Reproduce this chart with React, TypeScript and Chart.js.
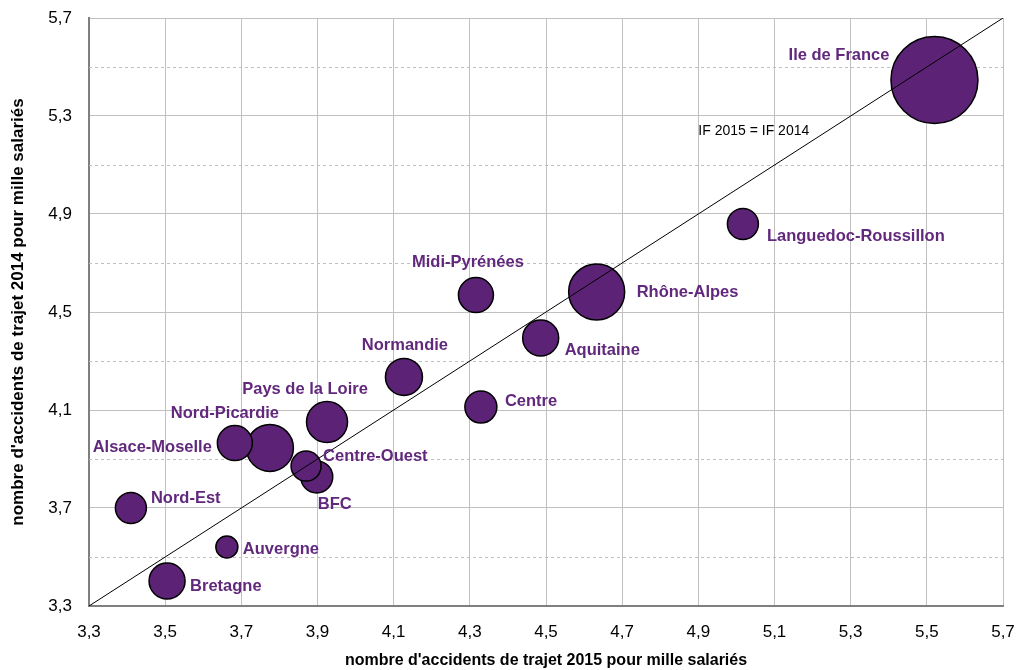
import React, { useEffect, useRef } from "react";
import { Chart, registerables } from "chart.js";

Chart.register(...registerables);

// ---- data ----
const regions = [
  "Ile de France",
  "Rhône-Alpes",
  "Nord-Picardie",
  "Pays de la Loire",
  "Normandie",
  "Aquitaine",
  "Bretagne",
  "Midi-Pyrénées",
  "Alsace-Moselle",
  "Centre",
  "BFC",
  "Languedoc-Roussillon",
  "Nord-Est",
  "Centre-Ouest",
  "Auvergne",
];
const if2015 = [5.52, 4.633, 3.775, 3.925, 4.127, 4.486, 3.505, 4.316, 3.683, 4.329, 3.898, 5.017, 3.41, 3.87, 3.662];
const if2014 = [5.447, 4.582, 3.945, 4.051, 4.235, 4.394, 3.402, 4.569, 3.965, 4.112, 3.827, 4.859, 3.7, 3.871, 3.541];
const bubbleSize = [43.5, 28, 23.5, 20.5, 18.5, 18, 18, 17.5, 17.5, 16, 16, 15.5, 15.5, 15, 11];
const diagonal = [3.3, 5.7];
const diagonalLabel = "IF 2015 = IF 2014";
const xTitle = "nombre d'accidents de trajet 2015 pour mille salariés";
const yTitle = "nombre d'accidents de trajet 2014 pour mille salariés";

// label placement (style only)
const labelPlacement: { dx: number; dy: number; align: CanvasTextAlign }[] = [
  { dx: -45, dy: -25, align: "right" },
  { dx: 40, dy: 1, align: "left" },
  { dx: -45, dy: -35, align: "center" },
  { dx: -22, dy: -33, align: "center" },
  { dx: 1, dy: -31, align: "center" },
  { dx: 24, dy: 12, align: "left" },
  { dx: 23, dy: 5, align: "left" },
  { dx: -8, dy: -33, align: "center" },
  { dx: -23, dy: 4, align: "right" },
  { dx: 24, dy: -6, align: "left" },
  { dx: 18, dy: 28, align: "center" },
  { dx: 24, dy: 12, align: "left" },
  { dx: 20, dy: -10, align: "left" },
  { dx: 17, dy: -10, align: "left" },
  { dx: 16, dy: 2, align: "left" },
];

const PURPLE = "#5C2275";
const LABEL_PURPLE = "#61287C";
const FONT = "'Liberation Sans', Arial, sans-serif";
const fmt = (v: number) => v.toFixed(1).replace(".", ",");

const labelsPlugin = {
  id: "bubbleLabels",
  beforeDatasetsDraw(chart: any) {
    const { ctx, chartArea, scales } = chart;
    const ys = scales.y;
    ctx.save();
    ctx.strokeStyle = "#BFBFBF";
    ctx.lineWidth = 1;
    ctx.setLineDash([3, 3]);
    ys.ticks.forEach((t: any, i: number) => {
      if (i % 2 === 1) {
        const py = Math.round(ys.getPixelForValue(t.value)) + 0.5;
        ctx.beginPath();
        ctx.moveTo(chartArea.left, py);
        ctx.lineTo(chartArea.right, py);
        ctx.stroke();
      }
    });
    ctx.restore();
  },
  afterDatasetsDraw(chart: any) {
    const { ctx, scales } = chart;
    const meta = chart.getDatasetMeta(1);
    ctx.save();
    ctx.font = `bold 16.5px ${FONT}`;
    ctx.fillStyle = LABEL_PURPLE;
    ctx.textBaseline = "middle";
    meta.data.forEach((el: any, i: number) => {
      const p = labelPlacement[i];
      ctx.textAlign = p.align;
      ctx.fillText(regions[i], el.x + p.dx, el.y + p.dy);
    });
    ctx.font = `14px ${FONT}`;
    ctx.fillStyle = "#000";
    ctx.textAlign = "left";
    ctx.fillText(diagonalLabel, scales.x.getPixelForValue(4.9), scales.y.getPixelForValue(5.24));
    ctx.restore();
  },
};

export default function App() {
  const ref = useRef<HTMLCanvasElement>(null);
  useEffect(() => {
    if (!ref.current) return;
    const chart = new Chart(ref.current, {
      type: "bubble",
      data: {
        datasets: [
          {
            type: "line",
            data: diagonal.map((v) => ({ x: v, y: v })),
            borderColor: "#000",
            borderWidth: 1,
            pointRadius: 0,
            order: 0,
          } as any,
          {
            type: "bubble",
            data: regions.map((_, i) => ({ x: if2015[i], y: if2014[i], r: bubbleSize[i] })),
            backgroundColor: PURPLE,
            borderColor: "#000",
            borderWidth: 1.5,
            order: 1,
          },
        ],
      },
      options: {
        animation: false,
        responsive: true,
        maintainAspectRatio: false,
        layout: { autoPadding: false, padding: { top: 18, right: 16, left: 0, bottom: 0 } },
        plugins: { legend: { display: false }, tooltip: { enabled: false } },
        scales: {
          x: {
            type: "linear",
            min: 3.3,
            max: 5.7,
            ticks: {
              stepSize: 0.2,
              padding: 16,
              color: "#000",
              font: { family: FONT, size: 17 },
              callback: (v: any) => fmt(Number(v)),
              maxRotation: 0,
              autoSkip: false,
            },
            grid: { color: "#C0C0C0", lineWidth: 1, drawTicks: false },
            border: { color: "#7F7F7F", width: 2 },
            title: {
              display: true,
              text: xTitle,
              color: "#000",
              font: { family: FONT, size: 16, weight: "bold" },
              padding: { top: 0, bottom: 0 },
            },
            afterFit: (s: any) => {
              s.height = 64;
              s.paddingLeft = 0;
              s.paddingRight = 0;
            },
          },
          y: {
            type: "linear",
            min: 3.3,
            max: 5.7,
            ticks: {
              stepSize: 0.2,
              padding: 17,
              color: "#000",
              font: { family: FONT, size: 17 },
              callback: (v: any, i: number) => (i % 2 === 0 ? fmt(Number(v)) : ""),
              autoSkip: false,
            },
            grid: {
              color: (c: any) => (c.index % 2 === 0 ? "#C0C0C0" : "rgba(0,0,0,0)"),
              lineWidth: 1,
              drawTicks: false,
            },
            border: { color: "#7F7F7F", width: 2 },
            title: {
              display: true,
              text: yTitle,
              color: "#000",
              font: { family: FONT, size: 17, weight: "bold" },
              padding: { top: 8, bottom: 0 },
            },
            afterFit: (s: any) => {
              s.width = 89;
              s.paddingTop = 0;
              s.paddingBottom = 0;
            },
          },
        },
      } as any,
      plugins: [labelsPlugin],
    });
    return () => chart.destroy();
  }, []);
  return (
    <div style={{ position: "fixed", left: 0, top: 0, width: 1019, height: 670, background: "#fff" }}>
      <canvas ref={ref} />
    </div>
  );
}
